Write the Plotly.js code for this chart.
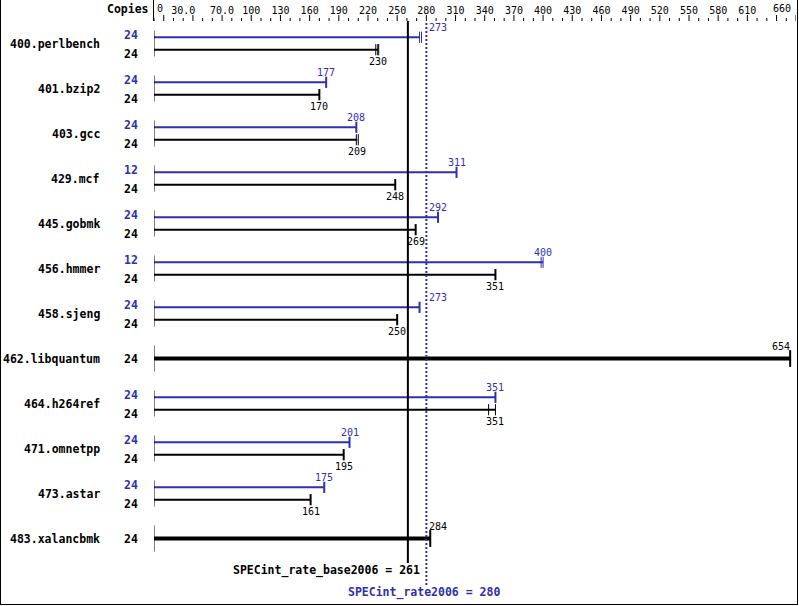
<!DOCTYPE html>
<html>
<head>
<meta charset="utf-8">
<script src="https://cdn.plot.ly/plotly-3.0.1.min.js"></script>
<style>html,body{margin:0;padding:0;background:#fff;}#chart{width:799px;height:606px;}</style>
</head>
<body>
<div id="chart"></div>
<script>
// ---------- data ----------
const benchmarks = ['400.perlbench','401.bzip2','403.gcc','429.mcf','445.gobmk','456.hmmer','458.sjeng','462.libquantum','464.h264ref','471.omnetpp','473.astar','483.xalancbmk'];
const peakCopies = [24, 24, 24, 12, 24, 12, 24, null, 24, 24, 24, null];
const baseCopies = [24, 24, 24, 24, 24, 24, 24, 24, 24, 24, 24, 24];
const peakRatio  = [273, 177, 208, 311, 292, 400, 273, null, 351, 201, 175, null];
const baseRatio  = [230, 170, 209, 248, 269, 351, 250, 654, 351, 195, 161, 284];
const peakRuns   = [[273,275],[177],[208],[311],[292],[398,400],[273],null,[351],[201],[175],null];
const baseRuns   = [[228,230,231],[170],[208,210],[248],[269],[351],[250],[654],[344,351],[195],[161],[284]];
const tickVals   = [0, 30, 70, 100, 130, 160, 190, 220, 250, 280, 310, 340, 370, 400, 430, 460, 490, 520, 550, 580, 610, 660];
const tickText   = ['0','30.0','70.0','100','130','160','190','220','250','280','310','340','370','400','430','460','490','520','550','580','610','660'];
const overallBase = 261;
const overallPeak = 280;
const baseMetric = 'SPECint_rate_base2006';
const peakMetric = 'SPECint_rate2006';

// ---------- style / layout helpers ----------
const W = 799, H = 606;
const L = 154, R = 3, T = 21, B = 6;
const PW = W - L - R, PH = H - T - B;
const ROW = 45;            // px per benchmark
const ROW0 = 43.5;         // px centre of first row
const SUB = 6.2 / ROW;     // offset of peak/base bars from row centre (row units)
const px2y = p => (p - ROW0) / ROW;           // pixel -> y data units
const pxX = p => (p - L) / PW;                // pixel -> paper x
const pxY = p => (H - B - p) / PH;            // pixel -> paper y
const BLUE = '#2f2fb0', BLACK = '#000000';
const MONO = 'DejaVu Sans Mono, Liberation Mono, monospace';
const AXMAX = 660;

const traces = [];
const shapes = [];
const ann = [];

function addBar(v, runs, yy, color, width, tickSize) {
  traces.push({x:[0, v], y:[yy, yy], mode:'lines', line:{color:color, width:width}, hoverinfo:'skip', showlegend:false});
  traces.push({x:runs, y:runs.map(()=>yy), mode:'markers',
    marker:{symbol:'line-ns', size:tickSize, color:color, line:{color:color, width: runs.length > 1 ? 1 : 2}},
    hoverinfo:'skip', showlegend:false});
}
function valueLabel(v, yy, color, shift) {
  const near = Math.abs(v - overallPeak) < 12 && shift > 0;
  const edge = v > 640;
  ann.push({xref:'x', yref:'y', x: near ? overallPeak : v, y:yy, yshift:shift,
    xanchor: edge ? 'right' : (near ? 'left' : 'center'), xshift: near ? 1 : (edge ? 2 : 0),
    yanchor:'middle', showarrow:false, text:String(v), font:{family:MONO, size:10, color:color}});
}
function copiesLabel(n, yy, color, shift) {
  ann.push({xref:'paper', yref:'y', x:0, xshift:-14, xanchor:'right', y:yy, yshift:shift, yanchor:'middle', showarrow:false,
    text:'<b>'+n+'</b>', font:{family:MONO, size:11.5, color:color}});
}

benchmarks.forEach((name, i) => {
  ann.push({xref:'paper', yref:'y', x:0, xshift:-52, xanchor:'right', y:i, yanchor:'middle', showarrow:false,
    text:'<b>'+name+'</b>', font:{family:MONO, size:11.5, color:BLACK}});
  shapes.push({type:'line', xref:'x', yref:'y', x0:0, x1:0, y0:i-0.29, y1:i+0.29, line:{color:BLACK, width:1}});
  if (peakRatio[i] === null) {
    addBar(baseRatio[i], baseRuns[i], i, BLACK, 4, 12);
    copiesLabel(baseCopies[i], i, BLACK, 0);
    valueLabel(baseRatio[i], i, BLACK, 12);
  } else {
    const yp = i - SUB, yb = i + SUB;
    addBar(peakRatio[i], peakRuns[i], yp, BLUE, 2, 8);
    addBar(baseRatio[i], baseRuns[i], yb, BLACK, 2, 8);
    copiesLabel(peakCopies[i], yp, BLUE, 2);
    copiesLabel(baseCopies[i], yb, BLACK, -4);
    valueLabel(peakRatio[i], yp, BLUE, 10);
    valueLabel(baseRatio[i], yb, BLACK, -12);
  }
});

// axis tick marks (every 10, longer every 30)
for (let v = 0; v <= AXMAX; v += 10) {
  const tall = (v % 30 === 10) || v === AXMAX;
  shapes.push({type:'line', xref:'x', yref:'paper', x0:v, x1:v, y0:1, y1:pxY(T - (tall ? 6 : 3)), line:{color:BLACK, width:1}});
}
// first and last tick labels sit inside the frame
ann.push({xref:'x', yref:'paper', x:tickVals[0], xshift:1, xanchor:'left', y:pxY(9), yanchor:'middle', showarrow:false,
  text:tickText[0], font:{family:MONO, size:10, color:BLACK}});
ann.push({xref:'x', yref:'paper', x:tickVals[tickVals.length-1], xshift:-3, xanchor:'right', y:pxY(9), yanchor:'middle', showarrow:false,
  text:tickText[tickText.length-1], font:{family:MONO, size:10, color:BLACK}});

// overall score lines
shapes.push({type:'line', xref:'x', yref:'paper', x0:overallBase, x1:overallBase, y0:pxY(563), y1:1, line:{color:BLACK, width:2}});
shapes.push({type:'line', xref:'x', yref:'paper', x0:overallPeak, x1:overallPeak, y0:pxY(585), y1:1, line:{color:BLUE, width:2, dash:'2px,2px'}});
ann.push({xref:'x', yref:'paper', x:overallBase, xshift:14, xanchor:'right', y:pxY(570), yanchor:'middle', showarrow:false,
  text:'<b>'+baseMetric+' = '+overallBase+'</b>', font:{family:MONO, size:11.5, color:BLACK}});
ann.push({xref:'x', yref:'paper', x:overallPeak, xshift:-2, xanchor:'center', y:pxY(592), yanchor:'middle', showarrow:false,
  text:'<b>'+peakMetric+' = '+overallPeak+'</b>', font:{family:MONO, size:11.5, color:BLUE}});

// header
ann.push({xref:'paper', yref:'paper', x:0, xshift:-3, xanchor:'right', y:pxY(9), yanchor:'middle', showarrow:false,
  text:'<b>Copies</b>', font:{family:MONO, size:11.5, color:BLACK}});
shapes.push({type:'line', xref:'paper', yref:'paper', x0:pxX(153.5), x1:pxX(153.5), y0:1, y1:pxY(0), line:{color:BLACK, width:1}});

// frame
shapes.push({type:'line', xref:'paper', yref:'paper', x0:pxX(0.5), x1:pxX(0.5), y0:pxY(0), y1:pxY(605), line:{color:BLACK, width:1}});
shapes.push({type:'line', xref:'paper', yref:'paper', x0:pxX(797.5), x1:pxX(797.5), y0:pxY(0), y1:pxY(605), line:{color:BLACK, width:1}});
shapes.push({type:'line', xref:'paper', yref:'paper', x0:pxX(0), x1:pxX(798), y0:pxY(604.5), y1:pxY(604.5), line:{color:BLACK, width:1}});

const layout = {
  width:W, height:H, margin:{l:L, r:R, t:T, b:B}, paper_bgcolor:'#fff', plot_bgcolor:'rgba(0,0,0,0)',
  showlegend:false,
  xaxis:{range:[0,AXMAX], side:'top', tickmode:'array', tickvals:tickVals.slice(1,-1), ticktext:tickText.slice(1,-1), ticks:'',
    showgrid:false, zeroline:false, showline:false, fixedrange:true, ticklabelstandoff:4,
    tickfont:{family:MONO, size:10, color:BLACK}},
  yaxis:{range:[px2y(H-B), px2y(T)], visible:false, fixedrange:true},
  shapes:shapes, annotations:ann
};
Plotly.newPlot('chart', traces, layout, {staticPlot:true, displayModeBar:false});
</script>
</body>
</html>
